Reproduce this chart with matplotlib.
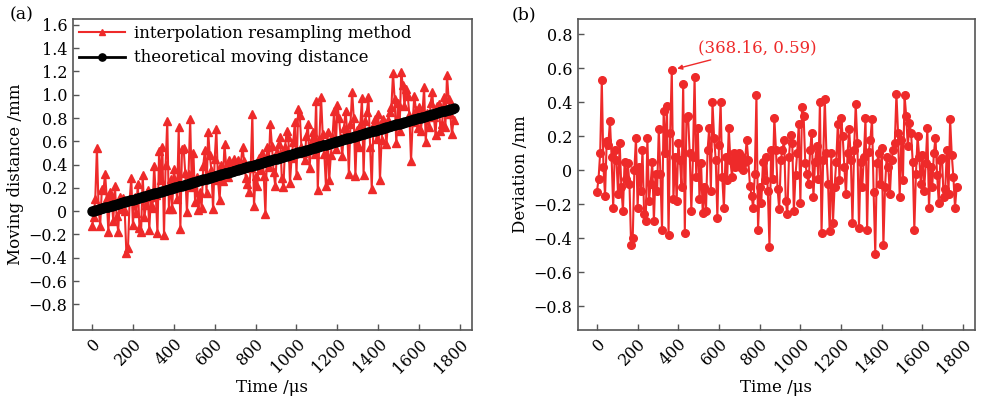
import numpy as np
import matplotlib
matplotlib.use("Agg")
import matplotlib.pyplot as plt

# ---------------- data ----------------
dt_us = 8.0035          # sampling interval (us)
rate_mm_per_us = 0.0005  # theoretical moving speed

deviation = [
    -0.13, -0.05, 0.10, 0.53, 0.02, -0.15, 0.17, 0.15, 0.29, 0.08,
    -0.22, 0.12, 0.06, -0.14, 0.16, -0.10, -0.24, 0.05, -0.05, 0.04,
    -0.08, -0.44, -0.40, 0.00, 0.19, -0.22, 0.02, -0.12, 0.12, -0.26,
    -0.30, 0.19, -0.18, -0.08, 0.05, -0.30, -0.02, -0.12, 0.24, -0.02,
    -0.35, 0.35, 0.10, 0.38, -0.38, 0.22, 0.59, -0.17, 0.08, -0.18,
    0.16, 0.06, -0.10, 0.51, -0.37, 0.31, 0.32, 0.10, -0.24, 0.08,
    0.55, -0.04, 0.25, -0.17, 0.04, -0.25, -0.10, -0.24, 0.12, 0.25,
    -0.12, 0.40, 0.19, 0.06, -0.28, 0.15, 0.40, -0.04, -0.22, 0.08,
    -0.06, 0.25, 0.06, -0.04, 0.10, 0.02, 0.06, 0.10, 0.02, 0.08,
    0.00, 0.05, 0.18, 0.06, -0.09, -0.15, -0.22, -0.02, 0.44, -0.35,
    -0.10, -0.19, 0.05, -0.06, 0.08, -0.12, -0.45, 0.12, -0.05, 0.31,
    0.12, -0.11, -0.23, 0.06, 0.12, 0.18, -0.18, -0.26, 0.08, 0.21,
    0.16, -0.24, -0.03, 0.10, 0.27, -0.19, 0.37, 0.32, 0.04, -0.02,
    -0.08, 0.12, 0.22, -0.16, 0.05, 0.14, -0.05, 0.40, -0.37, 0.06,
    0.42, 0.10, -0.08, -0.36, 0.10, -0.31, -0.10, 0.05, 0.27, -0.06,
    0.31, 0.20, 0.02, -0.14, 0.10, 0.24, 0.06, -0.31, 0.12, 0.39,
    0.16, -0.34, 0.05, -0.10, 0.08, 0.31, -0.35, 0.11, 0.18, 0.30,
    -0.13, -0.49, 0.04, 0.10, -0.08, 0.13, -0.44, -0.10, 0.08, 0.02,
    -0.14, 0.06, 0.12, 0.16, 0.45, 0.22, -0.16, 0.18, -0.06, 0.44,
    0.32, 0.14, 0.28, 0.22, 0.05, -0.35, -0.02, 0.20, 0.08, -0.08,
    0.09, -0.12, 0.04, 0.25, -0.22, 0.02, -0.10, 0.10, 0.19, -0.03,
    -0.19, 0.06, 0.07, -0.16, -0.11, 0.12, -0.14, 0.30, 0.09, -0.04,
    -0.22, -0.10,
]

time_us = np.arange(len(deviation)) * dt_us
theoretical = time_us * rate_mm_per_us
measured = theoretical + np.array(deviation)

xticks = [0, 200, 400, 600, 800, 1000, 1200, 1400, 1600, 1800]
yticks_a = [-0.8, -0.6, -0.4, -0.2, 0, 0.2, 0.4, 0.6, 0.8, 1.0, 1.2, 1.4, 1.6]
yticks_b = [-0.8, -0.6, -0.4, -0.2, 0, 0.2, 0.4, 0.6, 0.8]

# ---------------- style ----------------
RED = "#EE2A2A"
SPINE = "#555555"
plt.rcParams["font.family"] = ["DejaVu Serif"]
plt.rcParams["mathtext.fontset"] = "dejavuserif"

fig = plt.figure(figsize=(9.83, 4.0), dpi=100)
ax1 = fig.add_axes([73 / 983, 1 - 330 / 400, (472 - 73) / 983, (330 - 19) / 400])
ax2 = fig.add_axes([578 / 983, 1 - 330 / 400, (975 - 578) / 983, (330 - 19) / 400])


def fmt(v):
    if abs(v) < 1e-9:
        return "0"
    s = f"{abs(v):.1f}"
    return ("\u2212" + s) if v < 0 else s


def style(ax, yticks):
    for sp in ax.spines.values():
        sp.set_color(SPINE)
        sp.set_linewidth(1.2)
    ax.set_xlim(-93, 1859)
    ax.set_xticks(xticks)
    ax.set_xticklabels([str(x) for x in xticks], rotation=45, ha="right",
                       rotation_mode="anchor", fontsize=11.5)
    ax.set_yticks(yticks)
    ax.set_yticklabels([fmt(v) for v in yticks], fontsize=11.5)
    ax.tick_params(direction="in", length=4, width=1.0, color=SPINE,
                   top=False, right=False, pad=4)
    ax.set_xlabel("Time /\u03bcs", fontsize=12, labelpad=2)


# ---- panel (a)
ax1.plot(time_us, measured, color=RED, lw=1.5, marker="^", ms=5.5,
         mec=RED, mfc=RED, label="interpolation resampling method", zorder=2)
ax1.plot(time_us, theoretical, color="black", lw=2, marker="o", ms=6.5,
         label="theoretical moving distance", zorder=3)
ax1.set_ylim(-1.02, 1.65)
style(ax1, yticks_a)
ax1.set_ylabel("Moving distance /mm", fontsize=12, labelpad=3)
leg = ax1.legend(loc="upper left", frameon=False, fontsize=12, numpoints=1,
                 handlelength=2.8, handletextpad=0.5, borderpad=0.2,
                 borderaxespad=0.15, labelspacing=0.45, markerscale=0.8)

# ---- panel (b)
ax2.plot(time_us, deviation, color=RED, lw=1.5, marker="o", ms=5.5,
         mec=RED, mfc=RED)
ax2.set_ylim(-0.94, 0.89)
style(ax2, yticks_b)
ax2.set_ylabel("Deviation /nm", fontsize=12, labelpad=3)

peak_i = int(np.argmax(deviation))
ax2.annotate(f"({time_us[peak_i]:.2f}, {deviation[peak_i]:.2f})",
             xy=(time_us[peak_i], deviation[peak_i]),
             xytext=(495, 0.72), textcoords="data",
             color=RED, fontsize=12, va="center", ha="left",
             arrowprops=dict(arrowstyle="-|>", color=RED, lw=1.0,
                             mutation_scale=7, shrinkA=2, shrinkB=4))

fig.text(10 / 983, 1 - 15 / 400, "(a)", fontsize=12.5, va="center", ha="left")
fig.text(512 / 983, 1 - 15 / 400, "(b)", fontsize=12.5, va="center", ha="left")

fig.savefig("out.png", dpi=100)
